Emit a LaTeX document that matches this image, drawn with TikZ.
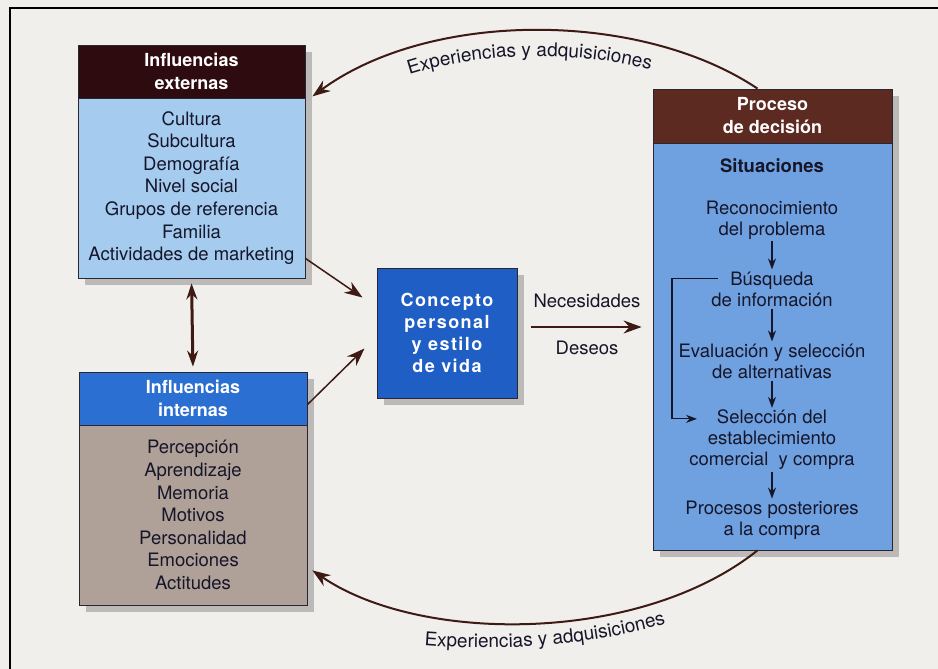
\documentclass[tikz,border=0pt]{standalone}
\usepackage{fontspec}
\setmainfont{TeX Gyre Heros}
\newfontfamily\widefont[LetterSpace=8]{TeX Gyre Heros}
\usetikzlibrary{arrows.meta,calc,shadows,decorations.text}

\definecolor{paper}{HTML}{F1EFEC}
\definecolor{darkhead}{HTML}{2E0B0E}
\definecolor{lightblue}{HTML}{A5CBEF}
\definecolor{intblue}{HTML}{2C6FD2}
\definecolor{taupe}{HTML}{B0A198}
\definecolor{conceptblue}{HTML}{1F5EC4}
\definecolor{prochead}{HTML}{5C2A20}
\definecolor{procblue}{HTML}{6FA0E0}
\definecolor{arrowbrown}{HTML}{3E1A14}
\definecolor{inktext}{HTML}{16162A}
\definecolor{boxline}{HTML}{2A2630}

\begin{document}
\begin{tikzpicture}[
    x=1pt, y=-1pt,
    >={Stealth[length=18pt,width=13pt]},
    box/.style={draw=boxline, line width=0.8pt, inner sep=0pt, align=center},
    shade/.style={drop shadow={shadow xshift=7pt, shadow yshift=-7pt, opacity=0.22, fill=black}},
    headtext/.style={font=\fontsize{18}{23}\selectfont\bfseries, text=white},
    bodytext/.style={font=\fontsize{18.5}{22.6}\selectfont, text=inktext},
    stagetext/.style={font=\fontsize{18.5}{21}\selectfont, text=inktext, align=center, inner sep=2pt},
    bigarrow/.style={->, draw=arrowbrown, line width=2pt},
    smallarrow/.style={-{Stealth[length=11pt,width=8pt]}, draw=inktext, line width=1.2pt},
    arclabel/.style={decorate, decoration={text along path, text align=center,
        text={|\fontsize{19}{19}\selectfont\color{inktext}|Experiencias y adquisiciones}}}
]

\useasboundingbox (0,0) rectangle (938,669);
\fill[paper] (0,0) rectangle (938,669);

% External influences
\node[box, shade, fill=darkhead, minimum width=227pt, minimum height=53pt, headtext] (exthead) at (191.5,71.5) {Influencias\\externas};
\node[box, shade, fill=lightblue, minimum width=227pt, minimum height=180pt, bodytext] (extbody) at (191.5,188)
    {Cultura\\Subcultura\\Demografía\\Nivel social\\Grupos de referencia\\Familia\\Actividades de marketing};

% Internal influences
\node[box, shade, fill=intblue, minimum width=228pt, minimum height=53pt, headtext] (inthead) at (193,398.5) {Influencias\\internas};
\node[box, shade, fill=taupe, minimum width=228pt, minimum height=180pt, bodytext] (intbody) at (193,515)
    {Percepción\\Aprendizaje\\Memoria\\Motivos\\Personalidad\\Emociones\\Actitudes};

% Self concept
\node[box, shade, fill=conceptblue, line width=1pt, minimum width=140pt, minimum height=130pt,
    font=\widefont\bfseries\fontsize{18}{22}\selectfont, text=white] (concept) at (447,333)
    {Concepto\\personal\\y estilo\\de vida};

% Decision process
\node[box, shade, fill=prochead, minimum width=239pt, minimum height=54pt, headtext] (prochd) at (772.5,116) {Proceso\\de decisión};
\node[box, shade, fill=procblue, minimum width=239pt, minimum height=407pt] (procbody) at (772.5,346.5) {};

% Stages
\node[stagetext, font=\fontsize{18.5}{21}\selectfont\bfseries] (sit) at (772,166) {Situaciones};
\node[stagetext] (s1) at (772,220) {Reconocimiento\\del problema};
\node[stagetext] (s2) at (772,289) {Búsqueda\\de información};
\node[stagetext] (s3) at (772,361) {Evaluación y selección\\de alternativas};
\node[stagetext] (s4) at (772,440) {Selección del\\establecimiento\\comercial~ y compra};
\node[stagetext] (s5) at (772,520) {Procesos posteriores\\a la compra};

\draw[smallarrow] (s1) -- (s2);
\draw[smallarrow] (s2) -- (s3);
\draw[smallarrow] (s3) -- (s4);
\draw[smallarrow] (s4) -- (s5);
\draw[smallarrow] (s2.north) ++(-54,9) -- ++(-46,0) |- ($(s4.north)+(-75,11)$);

% Needs and wants
\coordinate (need) at ($(concept.east)+(13,-6)$);
\draw[bigarrow, shorten >=11pt] (need) -- (need -| procbody.west);
\node[bodytext] (lneed) at (587,301) {Necesidades};
\node[bodytext] (lwish) at (587,348) {Deseos};

% Influences into the self concept
\draw[bigarrow, line width=1.5pt] ($(extbody.south east)+(0,-20)$) -- ($(concept.north west)+(-14,30)$);
\draw[bigarrow, line width=1.5pt] ($(intbody.north east)+(0,-20)$) -- ($(concept.south west)+(-12,-50)$);
\draw[{Stealth[length=16pt,width=11pt]}-{Stealth[length=16pt,width=11pt]}, draw=arrowbrown, line width=3pt,
    shorten <=5pt, shorten >=5pt] (extbody.south) -- (inthead.north);

% Feedback arcs
\draw[bigarrow] ([xshift=-15pt]prochd.north) .. controls (640,10) and (430,10) .. ($(exthead.south east)+(7,-2)$);
\draw[bigarrow] ([xshift=-15pt]procbody.south) .. controls (640,644) and (420,644) .. ($(intbody.south east)+(5,-35)$);
\path[arclabel] (400,78) .. controls (480,50) and (580,50) .. (660,72);
\path[arclabel] (420,645) .. controls (500,652) and (600,645) .. (670,622);

% Page frame
\draw[line width=2pt] (10,669) -- (10,8) -- (938,8);

\end{tikzpicture}
\end{document}
